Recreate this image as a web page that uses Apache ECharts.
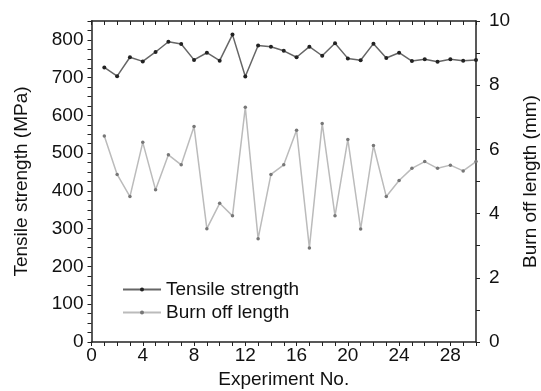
<!DOCTYPE html>
<html>
<head>
<meta charset="utf-8">
<script src="https://cdn.jsdelivr.net/npm/echarts@6/dist/echarts.min.js"></script>
<style>
  html, body { margin: 0; padding: 0; background: #fff; }
  #chart { width: 541px; height: 391px; }
</style>
</head>
<body>
<div id="chart"></div>
<script>
// experiment numbers 1..30
const experiments = [1, 2, 3, 4, 5, 6, 7, 8, 9, 10, 11, 12, 13, 14, 15,
  16, 17, 18, 19, 20, 21, 22, 23, 24, 25, 26, 27, 28, 29, 30]
// tensile strength, MPa (left axis)
const tensile = [727, 704, 754, 743, 768, 795, 789, 747, 766, 745, 814, 703, 785, 782, 771,
  754, 782, 758, 791, 751, 746, 790, 752, 766, 744, 749, 742, 749, 745, 747]
// burn off length, mm (right axis)
const burnOff = [6.42, 5.22, 4.53, 6.22, 4.74, 5.83, 5.52, 6.71, 3.53, 4.32, 3.93, 7.31, 3.22, 5.22, 5.52,
  6.60, 2.93, 6.81, 3.93, 6.31, 3.52, 6.12, 4.53, 5.03, 5.41, 5.62, 5.41, 5.51, 5.33, 5.62]

const font = 'Liberation Sans, Arial, sans-serif'
const fs = 19
const axisLine = { show: true, onZero: false, lineStyle: { color: '#222', width: 1.5 } }

const chart = echarts.init(document.getElementById('chart'))
chart.setOption({
  animation: false,
  textStyle: { fontFamily: font },
  grid: { left: 91.5, right: 65, top: 21, bottom: 49, containLabel: false, outerBoundsMode: 'none' },
  legend: {
    orient: 'vertical',
    left: 122,
    top: 280,
    padding: 0,
    itemWidth: 38,
    itemHeight: 5,
    itemGap: 4,
    textStyle: { fontSize: fs, color: '#111', fontFamily: font },
    data: ['Tensile strength', 'Burn off length'],
  },
  xAxis: [
    {
      type: 'value',
      min: 0,
      max: 30,
      interval: 1,
      name: 'Experiment No.',
      nameLocation: 'middle',
      nameGap: 28,
      nameTextStyle: { fontSize: fs, color: '#111' },
      axisLine,
      axisTick: { show: true, length: 4, lineStyle: { color: '#222' } },
      axisLabel: {
        fontSize: fs,
        color: '#111',
        margin: 4,
        formatter: (v) => (v % 4 === 0 && v < 30 ? String(v) : ''),
      },
      splitLine: { show: false },
    },
    {
      type: 'value',
      position: 'top',
      min: 0,
      max: 30,
      interval: 1,
      axisLine,
      axisTick: { show: true, inside: true, length: 4, lineStyle: { color: '#222' } },
      axisLabel: { show: false },
      splitLine: { show: false },
    },
  ],
  yAxis: [
    {
      type: 'value',
      min: 0,
      max: 850,
      interval: 25,
      name: 'Tensile strength (MPa)',
      nameLocation: 'middle',
      nameGap: 60,
      nameRotate: 90,
      nameTextStyle: { fontSize: fs, color: '#111' },
      axisLine,
      axisTick: { show: true, length: 4, lineStyle: { color: '#222' } },
      axisLabel: {
        fontSize: fs,
        color: '#111',
        margin: 8,
        formatter: (v) => (v % 100 === 0 ? String(v) : ''),
      },
      splitLine: { show: false },
    },
    {
      type: 'value',
      position: 'right',
      min: 0,
      max: 10,
      interval: 1,
      name: 'Burn off length (mm)',
      nameLocation: 'middle',
      nameGap: 44,
      nameRotate: 90,
      nameTextStyle: { fontSize: fs, color: '#111' },
      axisLine,
      axisTick: { show: true, length: 4, lineStyle: { color: '#222' } },
      axisLabel: {
        fontSize: fs,
        color: '#111',
        margin: 13,
        formatter: (v) => (v % 2 === 0 ? String(v) : ''),
      },
      splitLine: { show: false },
    },
  ],
  series: [
    {
      name: 'Tensile strength',
      type: 'line',
      xAxisIndex: 0,
      yAxisIndex: 0,
      symbol: 'circle',
      symbolSize: 4,
      itemStyle: { color: '#222' },
      lineStyle: { color: '#666', width: 1.5 },
      data: experiments.map((x, i) => [x, tensile[i]]),
    },
    {
      name: 'Burn off length',
      type: 'line',
      xAxisIndex: 0,
      yAxisIndex: 1,
      symbol: 'circle',
      symbolSize: 3.5,
      itemStyle: { color: '#777' },
      lineStyle: { color: '#bbb', width: 1.5 },
      data: experiments.map((x, i) => [x, burnOff[i]]),
    },
  ],
})
</script>
</body>
</html>
